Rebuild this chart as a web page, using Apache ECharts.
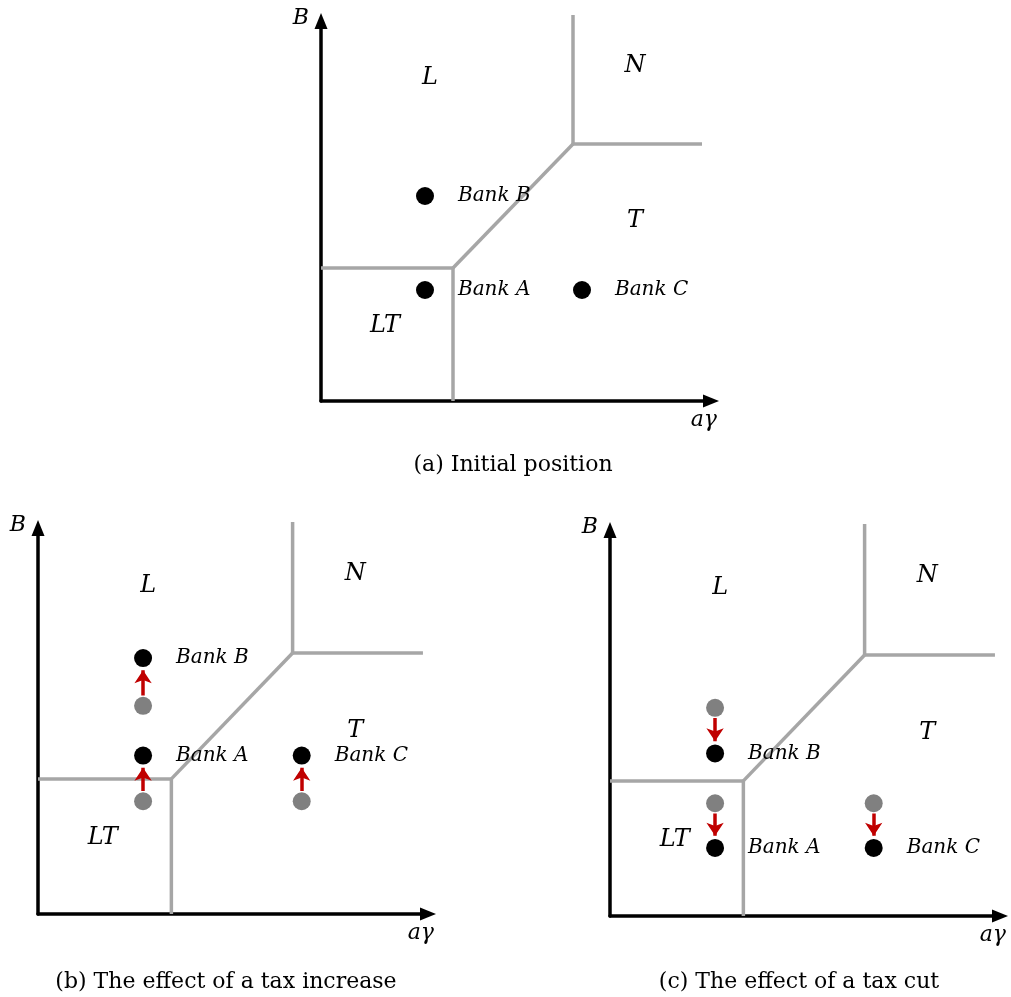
<!DOCTYPE html>
<html><head><meta charset="utf-8">
<script src="https://cdn.jsdelivr.net/npm/echarts@6/dist/echarts.min.js"></script>
<style>html,body{margin:0;padding:0;background:#fff}#c{width:1011px;height:997px}</style>
</head><body><div id="c"></div>
<script>
// ---- data (abstract diagram units) ----
const bankNames = ['Bank A', 'Bank B', 'Bank C'];
const bankX = [10.4, 10.4, 26.1];
const bankInitialY = [11.1, 20.5, 11.1];
const bankTaxIncreaseY = [15.6, 25.2, 15.6];
const bankTaxCutY = [6.7, 16.0, 6.7];

const boundaryLT = [[0, 13.3], [13.2, 13.3], [13.2, 0]];
const boundaryDiagonal = [[13.2, 13.3], [25.2, 25.7]];
const boundaryNVertical = [[25.2, 25.7], [25.2, 38.6]];
const boundaryNHorizontal = [[25.2, 25.7], [38.1, 25.7]];

const regionNames = ['L', 'N', 'T', 'LT'];
const regionX = [10.9, 31.4, 31.4, 6.4];
const regionY = [32.3, 33.5, 18.0, 7.5];

const captions = ['(a) Initial position', '(b) The effect of a tax increase', '(c) The effect of a tax cut'];
const yAxisName = 'B';
const xAxisName = 'aγ';
const xMax = [39, 38.6, 38.6];
const yMax = 38;

// ---- styling / layout ----
const SERIF = "'DejaVu Serif', serif";
const grids = [
  {left: 321, top: 21, width: 390, height: 380},
  {left: 38, top: 528, width: 390, height: 386},
  {left: 610, top: 530, width: 390, height: 386}
];
const captionPos = [[513, 465], [226, 982], [799, 982]];

const xAxes = grids.map((g, i) => ({
  gridIndex: i, type: 'value', min: 0, max: xMax[i],
  name: xAxisName, nameLocation: 'end', nameGap: 6,
  nameTextStyle: {fontFamily: SERIF, fontStyle: 'italic', fontSize: 22, color: '#000',
    align: 'right', verticalAlign: 'top', padding: [8, 0, 0, 0]},
  axisLine: {show: true, onZero: false, symbol: ['none', 'triangle'], symbolSize: [13, 16],
    lineStyle: {color: '#000', width: 3.5}},
  axisTick: {show: false}, axisLabel: {show: false}, splitLine: {show: false}
}));
const yAxes = grids.map((g, i) => ({
  gridIndex: i, type: 'value', min: 0, max: yMax,
  name: yAxisName, nameLocation: 'end', nameGap: 3,
  nameTextStyle: {fontFamily: SERIF, fontStyle: 'italic', fontSize: 22, color: '#000',
    align: 'right', verticalAlign: 'middle', padding: [0, 12, 0, 0]},
  axisLine: {show: true, onZero: false, symbol: ['none', 'triangle'], symbolSize: [13, 16],
    lineStyle: {color: '#000', width: 3.5}},
  axisTick: {show: false}, axisLabel: {show: false}, splitLine: {show: false}
}));

const series = [];
function boundary(i, pts) {
  series.push({type: 'line', xAxisIndex: i, yAxisIndex: i, data: pts, symbol: 'none',
    clip: false, silent: true, z: 1,
    lineStyle: {color: '#a6a6a6', width: 3.5}});
}
function dots(i, ys, color, withLabels) {
  series.push({type: 'scatter', xAxisIndex: i, yAxisIndex: i, symbolSize: 18, z: 5,
    itemStyle: {color: color, opacity: 1}, silent: true,
    data: bankX.map((x, k) => ({name: bankNames[k], value: [x, ys[k]]})),
    label: {show: withLabels, position: 'right', distance: 24, formatter: '{b}',
      fontFamily: SERIF, fontStyle: 'italic', fontSize: 20, color: '#000'}});
}
function regions(i) {
  series.push({type: 'scatter', xAxisIndex: i, yAxisIndex: i, symbolSize: 0, silent: true,
    itemStyle: {opacity: 1},
    data: regionNames.map((n, k) => ({name: n, value: [regionX[k], regionY[k]]})),
    label: {show: true, position: 'inside', formatter: '{b}', opacity: 1,
      textBorderWidth: 0, textShadowBlur: 0,
      fontFamily: SERIF, fontStyle: 'italic', fontSize: 24, color: '#000'}});
}
function arrows(i, fromY, toY) {
  series.push({type: 'lines', coordinateSystem: 'cartesian2d', xAxisIndex: i, yAxisIndex: i,
    silent: true, z: 4, symbol: ['none', 'arrow'], symbolSize: [13, 13],
    lineStyle: {color: '#c00000', width: 3.5, opacity: 1},
    data: bankX.map((x, k) => {
      const dir = toY[k] > fromY[k] ? 1 : -1;
      return {coords: [[x, fromY[k] + dir * 1.0], [x, toY[k] - dir * 1.2]]};
    })});
}

for (let i = 0; i < 3; i++) {
  boundary(i, boundaryLT);
  boundary(i, boundaryDiagonal);
  boundary(i, boundaryNVertical);
  boundary(i, boundaryNHorizontal);
  regions(i);
}
dots(0, bankInitialY, '#000', true);
dots(1, bankInitialY, '#808080', false);
dots(1, bankTaxIncreaseY, '#000', true);
arrows(1, bankInitialY, bankTaxIncreaseY);
dots(2, bankInitialY, '#808080', false);
dots(2, bankTaxCutY, '#000', true);
arrows(2, bankInitialY, bankTaxCutY);

const chart = echarts.init(document.getElementById('c'), null, {renderer: 'canvas'});
chart.setOption({
  animation: false,
  backgroundColor: '#fff',
  grid: grids,
  xAxis: xAxes,
  yAxis: yAxes,
  series: series,
  graphic: captions.map((t, i) => ({
    type: 'text', x: captionPos[i][0], y: captionPos[i][1],
    style: {text: t, fontFamily: SERIF, fontSize: 22, fill: '#000', align: 'center', verticalAlign: 'middle'}
  }))
});
</script></body></html>
